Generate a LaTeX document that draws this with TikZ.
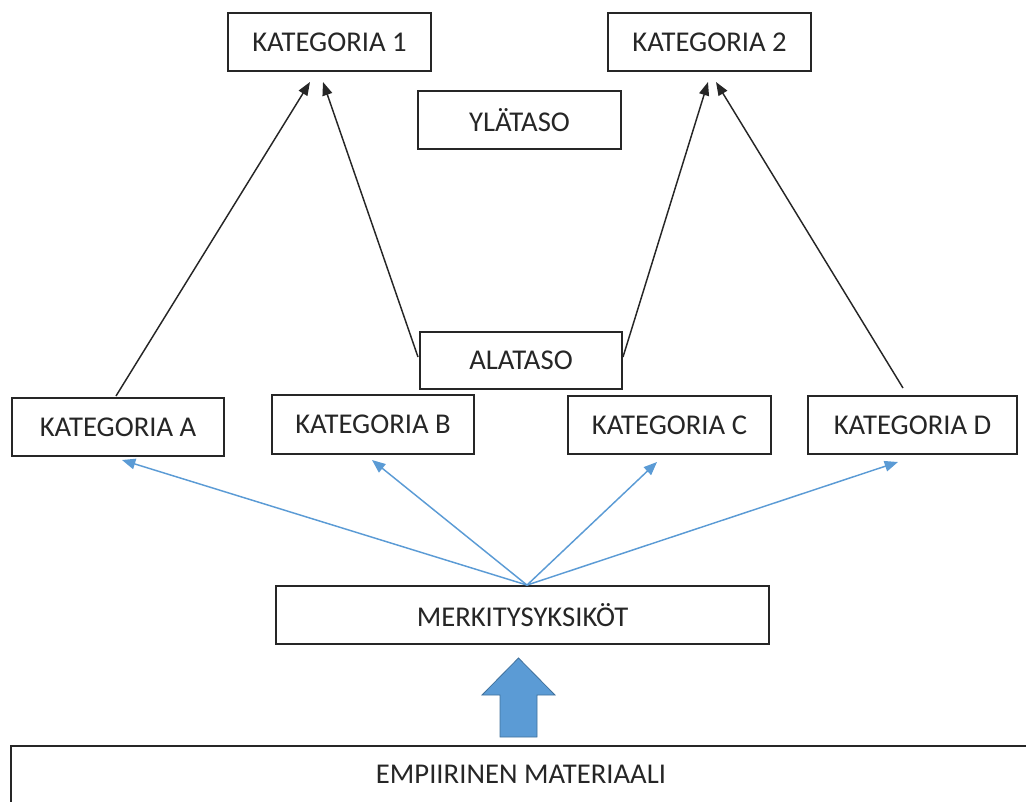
\documentclass[tikz,border=0pt]{standalone}
\usepackage{fontspec}
\setmainfont{Carlito}
\usetikzlibrary{arrows.meta,calc}
\definecolor{lblue}{HTML}{5B9BD5}
\definecolor{dblue}{HTML}{41719C}
\begin{document}
\begin{tikzpicture}[x=0.75pt,y=-0.75pt,
  box/.style={draw=black!85,line width=1.4pt,fill=white,inner sep=0pt,font=\fontsize{21.5}{24}\selectfont,text=black!85},
  blk/.style={draw=black!85,line width=1.1pt,-{Triangle[length=10pt,width=7.5pt]}},
  blu/.style={draw=lblue,line width=1.1pt,-{Triangle[length=10pt,width=8pt]}}]
\useasboundingbox (0,0) rectangle (1026,801);
\clip (0,0) rectangle (1026,801);
\node[box,minimum width=203*0.75pt,minimum height=58*0.75pt] (K1) at (329.5,42) {KATEGORIA 1};
\node[box,minimum width=203*0.75pt,minimum height=58*0.75pt] (K2) at (709.5,42) {KATEGORIA 2};
\node[box,minimum width=203*0.75pt,minimum height=58*0.75pt] (YLA) at (519.5,120) {YLÄTASO};
\node[box,minimum width=202*0.75pt,minimum height=57*0.75pt] (ALA) at (521,360.5) {ALATASO};
\node[box,minimum width=212*0.75pt,minimum height=58*0.75pt] (KA) at (118,427) {KATEGORIA A};
\node[box,minimum width=202*0.75pt,minimum height=59*0.75pt] (KB) at (373,424.5) {KATEGORIA B};
\node[box,minimum width=203*0.75pt,minimum height=58*0.75pt] (KC) at (669.5,425) {KATEGORIA C};
\node[box,minimum width=209*0.75pt,minimum height=58*0.75pt] (KD) at (912.5,425) {KATEGORIA D};
\node[box,minimum width=493*0.75pt,minimum height=58*0.75pt] (MER) at (522.5,615) {MERKITYSYKSIKÖT};
\draw[draw=black!85,line width=1.4pt] (11,746) rectangle (1045,830);
\node[font=\fontsize{21.5}{24}\selectfont,text=black!85,inner sep=0pt] (EMP) at (521,774) {EMPIIRINEN MATERIAALI};
% arrow end points
\coordinate (t1a) at (310,82);
\coordinate (t1b) at (323,82);
\coordinate (t2a) at (708,82);
\coordinate (t2b) at (716,82);
\coordinate (sA) at (116,396);
\coordinate (sB) at (418,357);
\coordinate (sC) at (623,357);
\coordinate (sD) at (903,388);
\draw[blk] (sA) -- (t1a);
\draw[blk] (sB) -- (t1b);
\draw[blk] (sC) -- (t2a);
\draw[blk] (sD) -- (t2b);
% blue arrows
\coordinate (m) at ($(MER.north)+(4.5,0)$);
\coordinate (bA) at (122,460);
\coordinate (bB) at (372,460);
\coordinate (bC) at (657,462);
\coordinate (bD) at (898,462);
\draw[blu] (m) -- (bA);
\draw[blu] (m) -- (bB);
\draw[blu] (m) -- (bC);
\draw[blu] (m) -- (bD);
% big arrow
\draw[fill=lblue,draw=dblue,line width=0.6pt] (500,737) -- (500,695) -- (482,695) -- (518.5,658) -- (555,695) -- (537,695) -- (537,737) -- cycle;
\end{tikzpicture}
\end{document}
